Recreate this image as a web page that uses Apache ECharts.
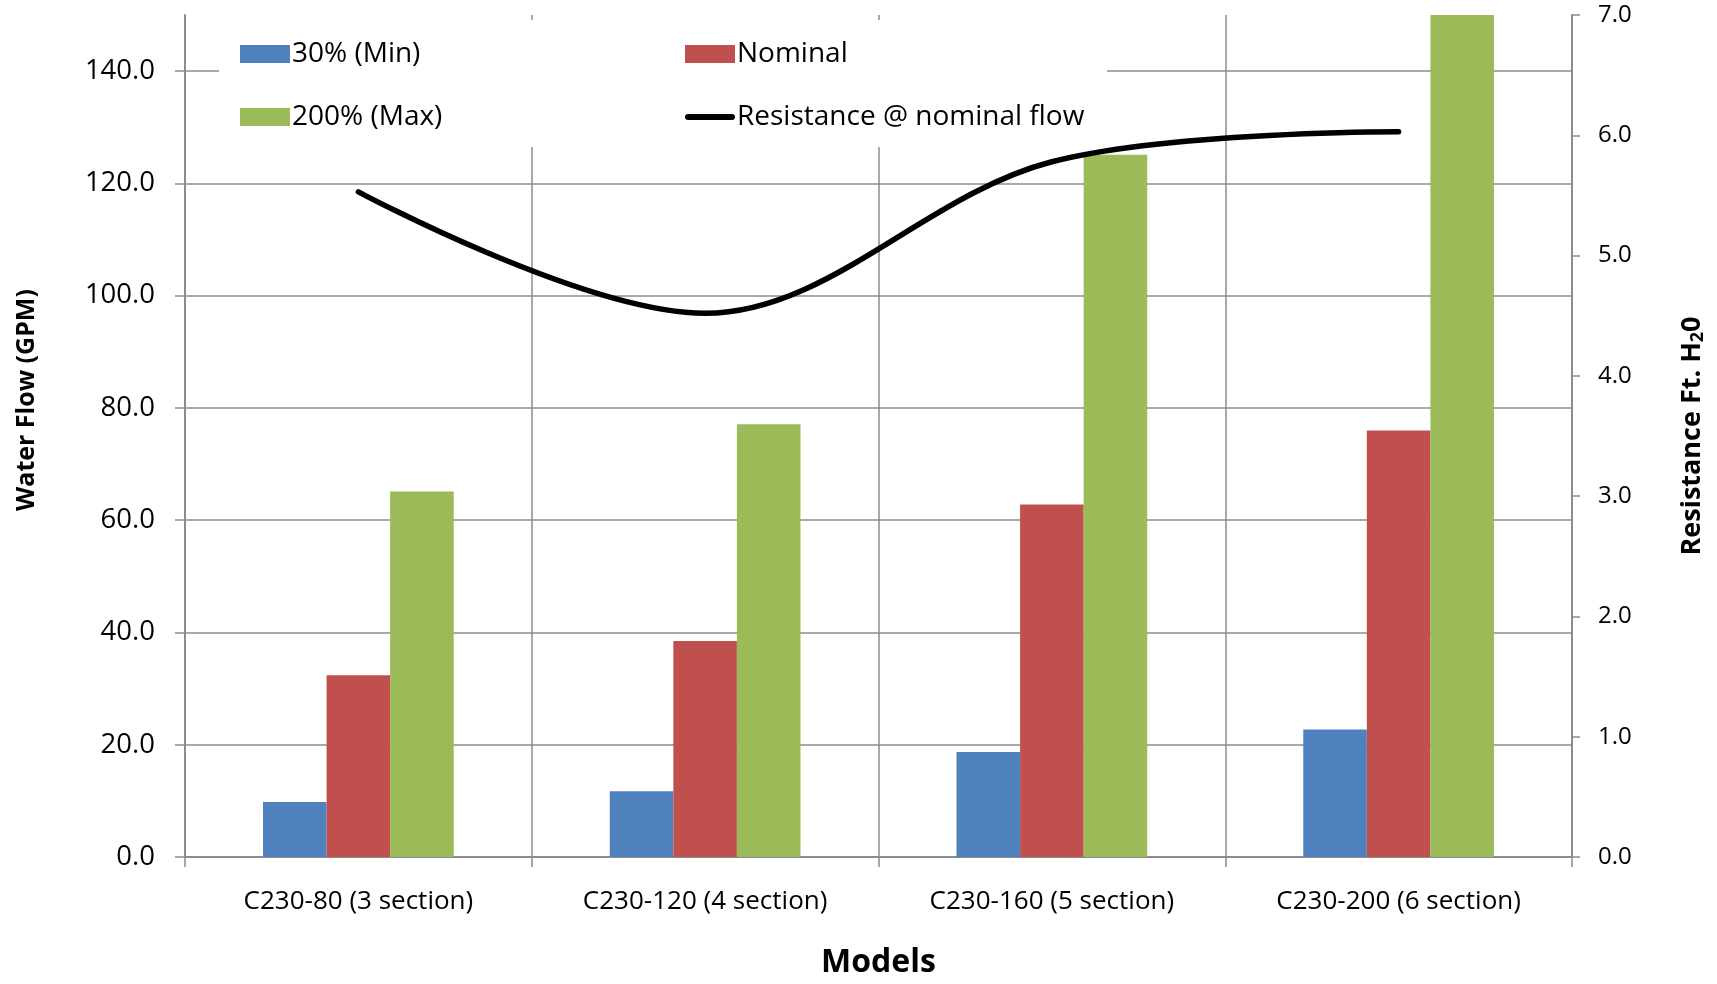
<!DOCTYPE html>
<html>
<head>
<meta charset="utf-8">
<script src="https://cdn.jsdelivr.net/npm/echarts@6/dist/echarts.min.js"></script>
<style>
html,body{margin:0;padding:0;background:#fff;}
#chart{width:1717px;height:984px;}
</style>
</head>
<body>
<div id="chart"></div>
<script>
const categories = ['C230-80 (3 section)', 'C230-120 (4 section)', 'C230-160 (5 section)', 'C230-200 (6 section)'];
const minFlow = [9.8, 11.7, 18.7, 22.7];
const nominalFlow = [32.4, 38.5, 62.8, 76.0];
const maxFlow = [65.1, 77.1, 125.1, 150.0];
const resistance = [5.53, 4.52, 5.78, 6.03];
const seriesNames = ['30% (Min)', 'Nominal', '200% (Max)', 'Resistance @ nominal flow'];

const FONT = "'Open Sans', 'Noto Sans', sans-serif";
const GRIDC = '#8c8c8c';
const LINE_ICON = 'path://M3,0 L47,0 A3,3 0 0 1 47,6 L3,6 A3,3 0 0 1 3,0 Z';

const chart = echarts.init(document.getElementById('chart'));
const legendText = {fontFamily: FONT, fontSize: 28, color: '#000', lineHeight: 32, padding: [0,0,0,-3]};
chart.setOption({
  animation: false,
  backgroundColor: '#fff',
  textStyle: {fontFamily: FONT, color: '#000'},
  grid: {left: 185, right: 145, top: 15, bottom: 124, containLabel: false},
  graphic: [{
    type: 'rect', z: 3, silent: true,
    shape: {x: 219, y: 20, width: 888, height: 127},
    style: {fill: '#fff'}
  }],
  legend: [{
    left: 235, top: 33, orient: 'vertical', itemWidth: 50, itemHeight: 18, itemGap: 31,
    z: 5, textStyle: legendText,
    data: [{name: seriesNames[0], icon: 'rect'}, {name: seriesNames[2], icon: 'rect'}]
  }, {
    left: 680, top: 33, orient: 'vertical', itemWidth: 50, itemHeight: 18, itemGap: 31,
    z: 5, textStyle: legendText,
    data: [{name: seriesNames[1], icon: 'rect'}, {name: seriesNames[3], icon: LINE_ICON, itemStyle: {color: '#000'}}]
  }],
  xAxis: {
    type: 'category', data: categories, boundaryGap: true,
    name: 'Models', nameLocation: 'middle', nameGap: 90,
    nameTextStyle: {fontFamily: FONT, fontSize: 32, fontWeight: 'bold', color: '#000'},
    axisLine: {lineStyle: {color: GRIDC, width: 2}},
    axisTick: {show: true, length: 10, lineStyle: {color: GRIDC, width: 1.5}},
    axisLabel: {fontFamily: FONT, fontSize: 26, color: '#000', margin: 32},
    splitLine: {show: true, lineStyle: {color: GRIDC, width: 1.5}}
  },
  yAxis: [{
    type: 'value', min: 0, max: 150, interval: 20,
    name: 'Water Flow (GPM)', nameLocation: 'middle', nameRotate: 90, nameGap: 146,
    nameTextStyle: {fontFamily: FONT, fontSize: 25, fontWeight: 'bold', color: '#000', padding: [0,0,0,72]},
    axisLine: {show: true, lineStyle: {color: GRIDC, width: 2}},
    axisTick: {show: true, length: 10, lineStyle: {color: GRIDC, width: 1.5}},
    axisLabel: {fontFamily: FONT, fontSize: 27.5, color: '#000', margin: 30, showMaxLabel: false,
      formatter: v => v >= 150 ? '' : v.toFixed(1)},
    splitLine: {show: true, showMaxLine: false, lineStyle: {color: GRIDC, width: 1.5}}
  }, {
    type: 'value', min: 0, max: 7, interval: 1, position: 'right',
    name: '{a|Resistance Ft. H}{b|2}{a|0}', nameLocation: 'middle', nameRotate: 90, nameGap: 104,
    nameTextStyle: {
      rich: {
        a: {fontFamily: FONT, fontSize: 27, fontWeight: 'bold', color: '#000', lineHeight: 32},
        b: {fontFamily: FONT, fontSize: 18, fontWeight: 'bold', color: '#000', lineHeight: 32, padding: [12,0,0,0]}
      }
    },
    axisLine: {show: true, lineStyle: {color: GRIDC, width: 2}},
    axisTick: {show: true, length: 8, lineStyle: {color: GRIDC, width: 1.5}},
    axisLabel: {fontFamily: FONT, fontSize: 24, color: '#000', margin: 26, formatter: v => v.toFixed(1)},
    splitLine: {show: false}
  }],
  series: [{
    name: seriesNames[0], type: 'bar', data: minFlow, yAxisIndex: 0,
    barGap: '0%', barCategoryGap: '45%', itemStyle: {color: '#4F81BD'}
  }, {
    name: seriesNames[1], type: 'bar', data: nominalFlow, yAxisIndex: 0,
    barGap: '0%', barCategoryGap: '45%', itemStyle: {color: '#C0504D'}
  }, {
    name: seriesNames[2], type: 'bar', data: maxFlow, yAxisIndex: 0,
    barGap: '0%', barCategoryGap: '45%', itemStyle: {color: '#9BBB59'}
  }, {
    name: seriesNames[3], type: 'line', data: resistance, yAxisIndex: 1,
    smooth: 0.35, symbol: 'none', showSymbol: false, z: 4,
    lineStyle: {color: '#000', width: 5.5, cap: 'round'},
    itemStyle: {color: '#000'}
  }]
});
</script>
</body>
</html>
